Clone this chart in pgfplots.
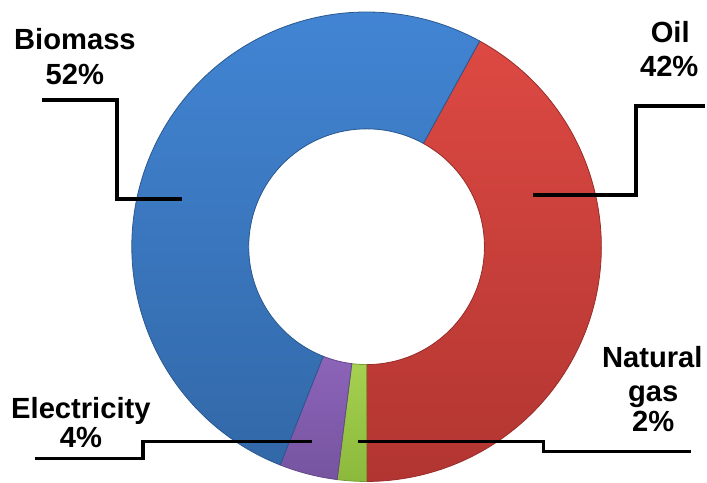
\documentclass[border=0pt]{standalone}
\usepackage{pgfplots}
\pgfplotsset{compat=1.18}
\usepackage{pgfplotstable}
\usepackage{fontspec}
\setmainfont{Liberation Sans}

\definecolor{oiltop}{RGB}{221,73,67}
\definecolor{oilbot}{RGB}{178,53,49}
\definecolor{gastop}{RGB}{165,208,80}
\definecolor{gasbot}{RGB}{140,185,60}
\definecolor{eletop}{RGB}{140,100,185}
\definecolor{elebot}{RGB}{118,84,160}
\definecolor{biotop}{RGB}{66,133,212}
\definecolor{biobot}{RGB}{50,104,168}

\pgfplotstableread{
source value col
Oil 42 oil
Gas 2 gas
Electricity 4 ele
Biomass 52 bio
}\donutdata

\begin{document}
\begin{tikzpicture}
\begin{axis}[scale only axis, width=353.5pt, height=241.5pt,
  xmin=0, xmax=707, ymin=0, ymax=483, hide axis, clip=false]
\path (axis cs:0,0) rectangle (axis cs:707,483);
\xdef\acc{61.2}
\foreach \i in {0,...,3}{
  \pgfplotstablegetelem{\i}{value}\of\donutdata
  \pgfmathsetmacro{\segval}{\pgfplotsretval}
  \pgfplotstablegetelem{\i}{col}\of\donutdata
  \edef\segcol{\pgfplotsretval}
  \pgfmathsetmacro{\aend}{\acc-3.6*\segval}
  \pgfmathsetmacro{\xa}{367+118*cos(\acc)}
  \pgfmathsetmacro{\ya}{236+118*sin(\acc)}
  \pgfmathsetmacro{\xb}{367+235*cos(\acc)}
  \pgfmathsetmacro{\yb}{236+235*sin(\acc)}
  \pgfmathsetmacro{\xc}{367+118*cos(\aend)}
  \pgfmathsetmacro{\yc}{236+118*sin(\aend)}
  \edef\temp{\noexpand\draw[draw=\segcol bot!85!black, line width=0.4pt,
      top color=\segcol top, bottom color=\segcol bot]
    (axis cs:\xa,\ya) -- (axis cs:\xb,\yb)
    arc[start angle=\acc, end angle=\aend, radius=117.5pt]
    -- (axis cs:\xc,\yc)
    arc[start angle=\aend, end angle=\acc, radius=59pt] -- cycle;}
  \temp
  \xdef\acc{\aend}
}
\tikzset{lbl/.style={anchor=base, inner sep=0pt,
  font=\fontsize{14.6}{16.5}\selectfont\bfseries}}
\node[lbl] at (axis cs:75,433) {Biomass};
\node[lbl] at (axis cs:75,398) {52\%};
\node[lbl] at (axis cs:671,440) {Oil};
\node[lbl] at (axis cs:670,406) {42\%};
\node[lbl] at (axis cs:81,64) {Electricity};
\node[lbl] at (axis cs:81,35) {4\%};
\node[lbl] at (axis cs:653,115) {Natural};
\node[lbl] at (axis cs:654,81) {gas};
\node[lbl] at (axis cs:654,51) {2\%};
\draw[line width=1.8pt] (axis cs:42,383) -- (axis cs:117,383) -- (axis cs:117,284) -- (axis cs:182,284);
\draw[line width=1.8pt] (axis cs:706,377) -- (axis cs:637,377) -- (axis cs:637,288) -- (axis cs:534,288);
\draw[line width=1.8pt] (axis cs:35,24) -- (axis cs:143,24) -- (axis cs:143,41) -- (axis cs:312,41);
\draw[line width=1.8pt] (axis cs:358,41) -- (axis cs:544,41) -- (axis cs:544,31) -- (axis cs:692,31);
\end{axis}
\end{tikzpicture}
\end{document}
